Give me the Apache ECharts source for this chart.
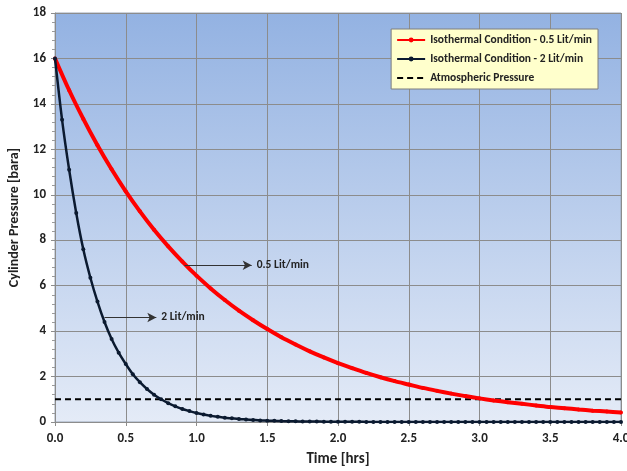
<!DOCTYPE html>
<html>
<head>
<meta charset="utf-8">
<script src="https://cdn.jsdelivr.net/npm/echarts@6/dist/echarts.min.js"></script>
<style>
  html, body { margin: 0; padding: 0; background: #fff; }
  #chart { width: 627px; height: 471px; }
</style>
</head>
<body>
<div id="chart"></div>
<script>
// 0.5 Lit/min 曲线 (每 0.1 hr 读一次)
var redTime = [0.0, 0.1, 0.2, 0.3, 0.4, 0.5, 0.6, 0.7, 0.8, 0.9, 1.0, 1.1, 1.2, 1.3, 1.4, 1.5, 1.6, 1.7, 1.8, 1.9, 2.0,
    2.1, 2.2, 2.3, 2.4, 2.5, 2.6, 2.7, 2.8, 2.9, 3.0, 3.1, 3.2, 3.3, 3.4, 3.5, 3.6, 3.7, 3.8, 3.9, 4.0];
var redPressure = [16.0, 14.6, 13.34, 12.18, 11.12, 10.15, 9.27, 8.46, 7.73, 7.06, 6.44, 5.88, 5.37, 4.9, 4.48, 4.09, 3.73, 3.41, 3.11, 2.84, 2.59,
    2.37, 2.16, 1.97, 1.8, 1.65, 1.5, 1.37, 1.25, 1.14, 1.04, 0.95, 0.87, 0.8, 0.73, 0.66, 0.61, 0.55, 0.5, 0.46, 0.42];

// 2 Lit/min 曲线 (每 0.05 hr)
var blackTime = [0.00, 0.05, 0.10, 0.15, 0.20, 0.25, 0.30, 0.35, 0.40, 0.45, 0.50, 0.55, 0.60, 0.65, 0.70, 0.75, 0.80, 0.85, 0.90, 0.95,
    1.00, 1.05, 1.10, 1.15, 1.20, 1.25, 1.30, 1.35, 1.40, 1.45, 1.50, 1.55, 1.60, 1.65, 1.70, 1.75, 1.80, 1.85, 1.90, 1.95,
    2.00, 2.05, 2.10, 2.15, 2.20, 2.25, 2.30, 2.35, 2.40, 2.45, 2.50, 2.55, 2.60, 2.65, 2.70, 2.75, 2.80, 2.85, 2.90, 2.95,
    3.00, 3.05, 3.10, 3.15, 3.20, 3.25, 3.30, 3.35, 3.40, 3.45, 3.50, 3.55, 3.60, 3.65, 3.70, 3.75, 3.80, 3.85, 3.90, 3.95, 4.00];
var blackPressure = [16.0, 13.3, 11.1, 9.2, 7.6, 6.35, 5.3, 4.4, 3.65, 3.05, 2.55, 2.1, 1.75, 1.45, 1.2, 1.0, 0.83, 0.69, 0.57, 0.48,
    0.40, 0.33, 0.27, 0.23, 0.19, 0.16, 0.13, 0.11, 0.09, 0.07, 0.06, 0.05, 0.04, 0.035, 0.03, 0.025, 0.02, 0.02, 0.015, 0.015,
    0.01, 0.01, 0.01, 0.01, 0.005, 0.005, 0.005, 0.005, 0.005, 0, 0, 0, 0, 0, 0, 0, 0, 0, 0, 0,
    0, 0, 0, 0, 0, 0, 0, 0, 0, 0, 0, 0, 0, 0, 0, 0, 0, 0, 0, 0, 0];

// 大气压
var atmTime = [0, 4];
var atmPressure = [1, 1];

var seriesNames = ['Isothermal Condition - 0.5 Lit/min', 'Isothermal Condition - 2 Lit/min', 'Atmospheric Pressure'];

// 箭头标注 [起点 t, 终点 t, 压力, 文字]
var noteRed = [0.915, 1.39, 6.9, '0.5 Lit/min'];
var noteBlack = [0.35, 0.716, 4.6, '2 Lit/min'];

var font = 'Carlito, Liberation Sans Narrow, Liberation Sans, sans-serif';

function pairs(xs, ys) {
    return xs.map(function (x, i) { return [x, ys[i]]; });
}

function arrowNote(n) {
    return {
        silent: true,
        symbol: ['none', 'arrow'],
        symbolSize: [7, 9],
        lineStyle: { color: '#333', width: 1, type: 'solid' },
        label: {
            show: true, position: 'end', distance: 5, formatter: n[3],
            color: '#222', fontWeight: 'bold', fontSize: 11.5, fontFamily: font
        },
        data: [[{ coord: [n[0], n[2]] }, { coord: [n[1], n[2]] }]]
    };
}

var chart = echarts.init(document.getElementById('chart'));
chart.setOption({
    animation: false,
    backgroundColor: '#fff',
    grid: {
        left: 55, right: 6, top: 13, bottom: 49,
        outerBoundsMode: 'none',
        containLabel: false,
        show: true,
        borderColor: '#9aa6b8',
        borderWidth: 1,
        backgroundColor: new echarts.graphic.LinearGradient(0, 0, 0, 1, [
            { offset: 0, color: '#93b2e2' },
            { offset: 1, color: '#e4ebf7' }
        ])
    },
    legend: {
        orient: 'vertical',
        right: 29, top: 29,
        backgroundColor: '#ffffcc',
        borderColor: '#7f7f7f',
        borderWidth: 1,
        padding: [5, 6, 5, 5],
        itemGap: 7,
        itemWidth: 28,
        itemHeight: 6,
        textStyle: { fontSize: 11.5, fontWeight: 'bold', color: '#222', fontFamily: font },
        data: [
            seriesNames[0],
            seriesNames[1],
            { name: seriesNames[2], itemStyle: { opacity: 0 } }
        ]
    },
    xAxis: {
        type: 'value',
        min: 0, max: 4, interval: 0.5,
        name: 'Time [hrs]',
        nameLocation: 'middle',
        nameGap: 30,
        nameTextStyle: { fontSize: 15, fontWeight: 'bold', color: '#222', fontFamily: font },
        axisLine: { show: true, lineStyle: { color: '#8c8c8c' } },
        axisTick: { show: true, length: 4, lineStyle: { color: '#8c8c8c' } },
        axisLabel: {
            fontSize: 13, fontWeight: 'bold', color: '#222', fontFamily: font, margin: 10,
            formatter: function (v) { return v.toFixed(1); }
        },
        splitLine: { show: true, lineStyle: { color: '#8c8c8c', width: 1 } }
    },
    yAxis: {
        type: 'value',
        min: 0, max: 18, interval: 2,
        name: 'Cylinder Pressure [bara]',
        nameLocation: 'middle',
        nameGap: 28,
        nameTextStyle: { fontSize: 14, fontWeight: 'bold', color: '#222', fontFamily: font },
        axisLine: { show: true, lineStyle: { color: '#8c8c8c' } },
        axisTick: { show: true, length: 4, lineStyle: { color: '#8c8c8c' } },
        minorTick: { show: true, splitNumber: 5, length: 3, lineStyle: { color: '#9a9a9a' } },
        axisLabel: { fontSize: 13, fontWeight: 'bold', color: '#222', fontFamily: font, margin: 9 },
        splitLine: { show: true, lineStyle: { color: '#8c8c8c', width: 1 } }
    },
    series: [
        {
            name: seriesNames[0],
            type: 'line',
            data: pairs(redTime, redPressure),
            smooth: 0.3,
            color: '#ff0000',
            lineStyle: { color: '#ff0000', width: 4 },
            symbol: 'circle',
            symbolSize: 4,
            itemStyle: { color: '#ff0000' },
            z: 3,
            markLine: arrowNote(noteRed)
        },
        {
            name: seriesNames[1],
            type: 'line',
            data: pairs(blackTime, blackPressure),
            smooth: 0.3,
            color: '#0b1a30',
            lineStyle: { color: '#0b1a30', width: 2.5 },
            symbol: 'circle',
            symbolSize: 4,
            itemStyle: { color: '#0b1a30' },
            z: 4,
            markLine: arrowNote(noteBlack)
        },
        {
            name: seriesNames[2],
            type: 'line',
            data: pairs(atmTime, atmPressure),
            color: '#000',
            lineStyle: { color: '#000', width: 2, type: [6, 4] },
            symbol: 'none',
            z: 2
        }
    ]
});
</script>
</body>
</html>
